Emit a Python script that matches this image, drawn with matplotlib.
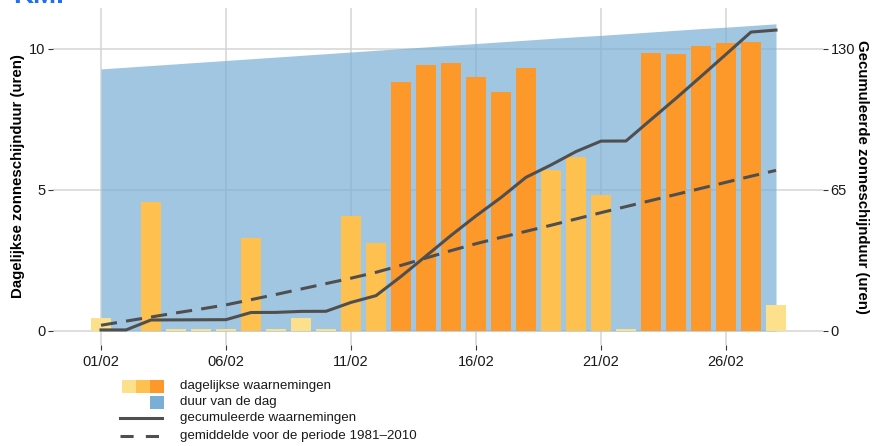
import numpy as np
import matplotlib
matplotlib.use('Agg')
import matplotlib.pyplot as plt
from matplotlib.patches import Rectangle
from matplotlib.lines import Line2D

plt.rcParams['font.family'] = ['Liberation Sans', 'DejaVu Sans']

# ---------------- data ----------------
days = list(range(1, 29))
daily_sun = [0.45, 0.0, 4.58, 0.05, 0.05, 0.05, 3.30, 0.05, 0.46, 0.05,
             4.09, 3.12, 8.84, 9.42, 9.49, 9.01, 8.48, 9.31, 5.70, 6.17,
             4.82, 0.05, 9.86, 9.81, 10.09, 10.21, 10.25, 0.91]
sun_class = ['l', 'l', 'm', 'l', 'l', 'l', 'm', 'l', 'l', 'l',
             'm', 'm', 'h', 'h', 'h', 'h', 'h', 'h', 'm', 'm',
             'm', 'l', 'h', 'h', 'h', 'h', 'h', 'l']
day_length = [9.29, 9.35, 9.41, 9.47, 9.53, 9.59, 9.65, 9.71, 9.77, 9.83,
              9.89, 9.95, 10.01, 10.07, 10.13, 10.19, 10.25, 10.31, 10.37, 10.43,
              10.48, 10.54, 10.60, 10.66, 10.72, 10.77, 10.83, 10.89]
normal_cum = [2.6, 4.5, 6.4, 8.3, 10.1, 12.0, 14.4, 16.8, 19.3, 21.8,
              24.3, 27.0, 30.2, 33.6, 37.0, 40.2, 43.1, 45.9, 48.7, 51.6,
              54.5, 57.3, 60.1, 62.9, 65.7, 68.5, 71.3, 74.0]
xtick_days = [1, 6, 11, 16, 21, 26]
xtick_labels = ['01/02', '06/02', '11/02', '16/02', '21/02', '26/02']
left_ticks = [0, 5, 10]
right_ticks = [0, 65, 130]
legend_labels = ['dagelijkse waarnemingen', 'duur van de dag',
                 'gecumuleerde waarnemingen', 'gemiddelde voor de periode 1981\u20132010']

# ---------------- style ----------------
class_colors = {'l': '#fde08b', 'm': '#fec04e', 'h': '#fd982b'}
blue = '#7aaed6'
line_col = '#4f4f4f'
grid_col = '#d4d4d4'
tick_col = '#333333'
txt_col = '#1a1a1a'

W, H = 873, 446
fig = plt.figure(figsize=(W / 100, H / 100), dpi=100)
L, R, T, B = 53, 823, 8, 345
ax = fig.add_axes([L / W, 1 - B / H, (R - L) / W, (B - T) / H])
ax.set_xlim(-0.92, 29.88)
ax.set_ylim(-0.5, 11.45)
for s in ax.spines.values():
    s.set_visible(False)
ax.set_xticks(xtick_days)
ax.set_xticklabels(xtick_labels)
ax.set_yticks(left_ticks)
ax.grid(True, color=grid_col, lw=1.1)
ax.set_axisbelow(True)
ax.tick_params(length=3.5, width=0.8, color=tick_col, labelsize=10.5,
               labelcolor=txt_col, pad=2)
ax.tick_params(axis='x', pad=4)

ax.fill_between(days, 0, day_length, color=blue, alpha=0.7, lw=0, zorder=1)
ax.bar(days, daily_sun, width=0.8, color=[class_colors[c] for c in sun_class],
       lw=0, zorder=2)
ax.set_ylabel('Dagelijkse zonneschijnduur (uren)', fontsize=10.8,
              fontweight='bold', color='black', labelpad=3)

ax2 = ax.twinx()
ax2.set_ylim(-0.5 * 13, 11.45 * 13)
for s in ax2.spines.values():
    s.set_visible(False)
ax2.set_yticks(right_ticks)
ax2.tick_params(length=3.5, width=0.8, color=tick_col, labelsize=10.5,
                labelcolor=txt_col, pad=2)
ax2.plot(days, np.cumsum(daily_sun), color=line_col, lw=2.2,
         solid_joinstyle='round', zorder=3)
ax2.plot(days, normal_cum, color=line_col, lw=2.2, dashes=(5.3, 3.0), zorder=3)
ax2.set_ylabel('Gecumuleerde zonneschijnduur (uren)', fontsize=10.8,
               fontweight='bold', color='black', rotation=-90, labelpad=10)

# ---------------- legend (pixel coordinates) ----------------
lax = fig.add_axes([0, 0, 1, 1])
lax.set_xlim(0, W)
lax.set_ylim(H, 0)
lax.axis('off')
for i, c in enumerate(['l', 'm', 'h']):
    lax.add_patch(Rectangle((122 + 14 * i, 379.5), 14, 13, color=class_colors[c], lw=0))
lax.add_patch(Rectangle((150, 396), 14, 13, color=blue, lw=0))
lax.add_line(Line2D([120, 162], [418, 418], color=line_col, lw=2.2))
lax.add_line(Line2D([120, 162], [436, 436], color=line_col, lw=2.2, dashes=(4.3, 4.0)))
for y, t in zip([386, 402.5, 418, 436], legend_labels):
    lax.text(180, y, t, fontsize=9.6, color=txt_col, va='center', ha='left')

fig.text(13 / W, 1 - 3 / H, 'KMI', color='#1f6ff0', fontsize=20,
         fontweight='bold', va='baseline', ha='left')

fig.savefig('out.png', dpi=100)
